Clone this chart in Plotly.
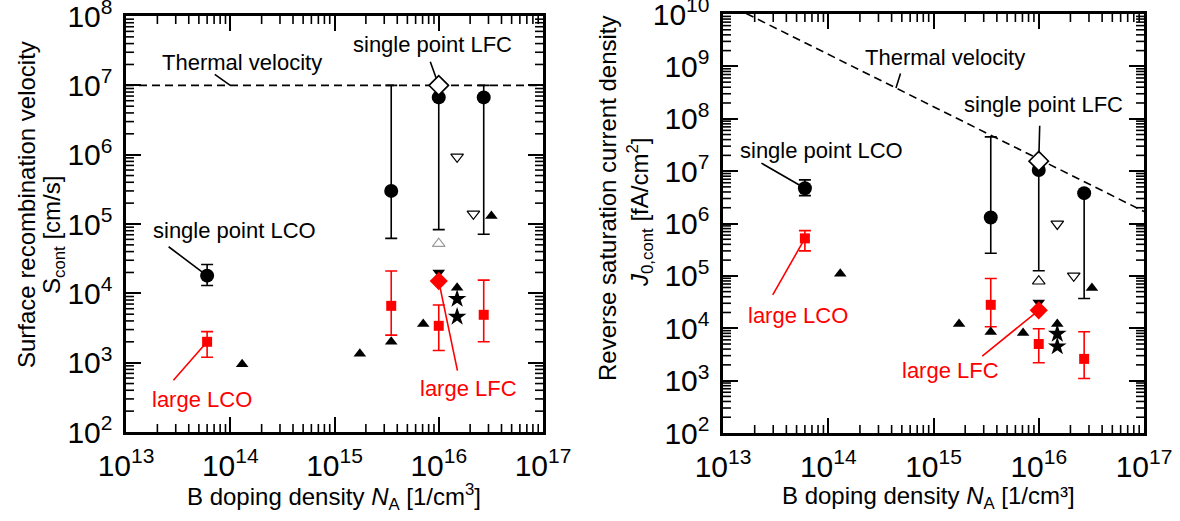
import numpy as np
import plotly.graph_objects as go

# ---------------- data ----------------
# boron doping densities [1/cm^3]
na_sp_lco = [6.0e13]
na_sp_lfc = [3.5e15, 1.0e16, 2.7e16]
na_lg_lco = [6.0e13]
na_lg_lfc = [3.5e15, 1.0e16, 2.7e16]
na_sp_lfc_pt = [1.0e16]
na_lg_lfc_pt = [1.0e16]
na_lit_up = [1.3e14, 1.75e15, 3.5e15, 7.1e15, 1.5e16, 3.2e16]
na_lit_down = [1.0e16]
na_open_down = [1.5e16, 2.15e16]
na_open_up = [1.0e16]
na_star = [1.5e16, 1.5e16]
na_thermal = [1.0e13, 1.0e17]

# surface recombination velocity S_cont [cm/s]
S_sp_lco = [1.8e4]; S_sp_lco_hi = [2.6e4]; S_sp_lco_lo = [1.3e4]
S_sp_lfc = [3.0e5, 6.7e6, 6.7e6]; S_sp_lfc_hi = [1e7, 1e7, 1e7]; S_sp_lfc_lo = [6.2e4, 8.3e4, 7.1e4]
S_lg_lco = [2.0e3]; S_lg_lco_hi = [2.8e3]; S_lg_lco_lo = [1.2e3]
S_lg_lfc = [6.6e3, 3.4e3, 4.9e3]; S_lg_lfc_hi = [2.1e4, 6.8e3, 1.55e4]; S_lg_lfc_lo = [2.5e3, 1.5e3, 2.0e3]
S_sp_lfc_pt = [1.0e7]
S_lg_lfc_pt = [1.5e4]
S_lit_up = [9.5e2, 1.35e3, 2.0e3, 3.6e3, 1.2e4, 1.3e5]
S_lit_down = [2.0e4]
S_open_down = [9.3e5, 1.4e5]
S_open_up = [5.2e4]
S_star = [8.3e3, 4.6e3]
S_thermal = [1.0e7, 1.0e7]

# reverse saturation current density J0,cont [fA/cm^2]
J_sp_lco = [4.7e6]; J_sp_lco_hi = [6.8e6]; J_sp_lco_lo = [3.4e6]
J_sp_lfc = [1.3e6, 1.05e7, 3.8e6]; J_sp_lfc_hi = [4.5e7, 1.55e7, 3.8e6]; J_sp_lfc_lo = [2.7e5, 1.25e5, 3.7e4]
J_lg_lco = [5.2e5]; J_lg_lco_hi = [7.3e5]; J_lg_lco_lo = [3.0e5]
J_lg_lfc = [2.8e4, 5.0e3, 2.6e3]; J_lg_lfc_hi = [8.9e4, 9.8e3, 8.6e3]; J_lg_lfc_lo = [1.07e4, 2.2e3, 1.1e3]
J_sp_lfc_pt = [1.55e7]
J_lg_lfc_pt = [2.2e4]
J_lit_up = [1.1e5, 1.2e4, 8.5e3, 8.1e3, 1.2e4, 5.9e4]
J_lit_down = [3.1e4]
J_open_down = [9.8e5, 1.0e5]
J_open_up = [7.9e4]
J_star = [7.8e3, 4.5e3]
J_thermal = [1.7e10, 1.7e6]
thermal_mark_na = [4.4e14]   # point where the label leader touches the right-hand line

# axis ranges (decades) and tick values (decades and 2..9 minors)
x_dec = (13, 17)
yS_dec = (2, 8)
yJ_dec = (2, 10)
major_x = [10.0 ** e for e in range(x_dec[0], x_dec[1] + 1)]
major_yS = [10.0 ** e for e in range(yS_dec[0], yS_dec[1] + 1)]
major_yJ = [10.0 ** e for e in range(yJ_dec[0], yJ_dec[1] + 1)]
minor_x = [m * 10.0 ** e for e in range(x_dec[0], x_dec[1]) for m in range(2, 10)]
minor_yS = [m * 10.0 ** e for e in range(yS_dec[0], yS_dec[1]) for m in range(2, 10)]
minor_yJ = [m * 10.0 ** e for e in range(yJ_dec[0], yJ_dec[1]) for m in range(2, 10)]

RED = "#FF0000"
FONT = "Liberation Sans, Arial, sans-serif"
W, H = 1180, 521

fig = go.Figure()


def err(y, hi, lo, color):
    y = np.array(y); hi = np.array(hi); lo = np.array(lo)
    return dict(type="data", symmetric=False, array=list(hi - y), arrayminus=list(y - lo),
                color=color, thickness=1.6, width=6)


def add_minor_ticks(xa, ya, xr, yr, minx, miny):
    """inside minor tick marks on all four sides, drawn as line markers clipped at the frame"""
    common = dict(xaxis=xa, yaxis=ya, showlegend=False, hoverinfo="skip", mode="markers",
                  cliponaxis=True)
    x0, x1 = 10.0 ** xr[0], 10.0 ** xr[1]
    y0, y1 = 10.0 ** yr[0], 10.0 ** yr[1]
    mk = dict(size=11.4, color="black", line=dict(color="black", width=1.6))
    for yy in (y0, y1):
        fig.add_trace(go.Scatter(x=minx, y=[yy] * len(minx), marker=dict(symbol="line-ns", **mk), **common))
    for xx in (x0, x1):
        fig.add_trace(go.Scatter(x=[xx] * len(miny), y=miny, marker=dict(symbol="line-ew", **mk), **common))


def add_panel(xa, ya, d):
    common = dict(xaxis=xa, yaxis=ya, showlegend=False, hoverinfo="skip")
    fig.add_trace(go.Scatter(x=na_thermal, y=d["th"], mode="lines",
                             line=dict(color="black", width=1.6, dash="8px,5px"), **common))
    fig.add_trace(go.Scatter(x=na_sp_lfc, y=d["sp_lfc"], mode="markers",
                             marker=dict(symbol="circle", size=14, color="black"),
                             error_y=err(d["sp_lfc"], d["sp_lfc_hi"], d["sp_lfc_lo"], "black"), **common))
    fig.add_trace(go.Scatter(x=na_sp_lco, y=d["sp_lco"], mode="markers",
                             marker=dict(symbol="circle", size=14, color="black"),
                             error_y=err(d["sp_lco"], d["sp_lco_hi"], d["sp_lco_lo"], "black"), **common))
    fig.add_trace(go.Scatter(x=na_lg_lco, y=d["lg_lco"], mode="markers",
                             marker=dict(symbol="square", size=10, color=RED),
                             error_y=err(d["lg_lco"], d["lg_lco_hi"], d["lg_lco_lo"], RED), **common))
    fig.add_trace(go.Scatter(x=na_lg_lfc, y=d["lg_lfc"], mode="markers",
                             marker=dict(symbol="square", size=10, color=RED),
                             error_y=err(d["lg_lfc"], d["lg_lfc_hi"], d["lg_lfc_lo"], RED), **common))
    fig.add_trace(go.Scatter(x=na_lit_up, y=d["lit_up"], mode="markers",
                             marker=dict(symbol="triangle-up", size=11, color="black"), **common))
    fig.add_trace(go.Scatter(x=na_lit_down, y=d["lit_down"], mode="markers",
                             marker=dict(symbol="triangle-down", size=11, color="black"), **common))
    fig.add_trace(go.Scatter(x=na_open_down, y=d["open_down"], mode="markers",
                             marker=dict(symbol="triangle-down-open", size=11, color="black",
                                         line=dict(width=1.2)), **common))
    fig.add_trace(go.Scatter(x=na_open_up, y=d["open_up"], mode="markers",
                             marker=dict(symbol="triangle-up-open", size=11, color=d["open_up_col"],
                                         line=dict(width=1.2)), **common))
    fig.add_trace(go.Scatter(x=na_star, y=d["star"], mode="markers",
                             marker=dict(symbol="star", size=14, color="black"), **common))
    fig.add_trace(go.Scatter(x=na_lg_lfc_pt, y=d["lg_lfc_pt"], mode="markers",
                             marker=dict(symbol="diamond", size=14, color=RED), **common))
    fig.add_trace(go.Scatter(x=na_sp_lfc_pt, y=d["sp_lfc_pt"], mode="markers",
                             marker=dict(symbol="diamond", size=15, color="white",
                                         line=dict(color="black", width=1.6)), **common))


add_minor_ticks("x", "y", x_dec, yS_dec, minor_x, minor_yS)
add_minor_ticks("x2", "y2", x_dec, yJ_dec, minor_x, minor_yJ)

add_panel("x", "y", dict(th=S_thermal, sp_lfc=S_sp_lfc, sp_lfc_hi=S_sp_lfc_hi, sp_lfc_lo=S_sp_lfc_lo,
                         sp_lco=S_sp_lco, sp_lco_hi=S_sp_lco_hi, sp_lco_lo=S_sp_lco_lo,
                         lg_lco=S_lg_lco, lg_lco_hi=S_lg_lco_hi, lg_lco_lo=S_lg_lco_lo,
                         lg_lfc=S_lg_lfc, lg_lfc_hi=S_lg_lfc_hi, lg_lfc_lo=S_lg_lfc_lo,
                         lit_up=S_lit_up, lit_down=S_lit_down, open_down=S_open_down,
                         open_up=S_open_up, open_up_col="#9a9a9a", star=S_star,
                         lg_lfc_pt=S_lg_lfc_pt, sp_lfc_pt=S_sp_lfc_pt))
add_panel("x2", "y2", dict(th=J_thermal, sp_lfc=J_sp_lfc, sp_lfc_hi=J_sp_lfc_hi, sp_lfc_lo=J_sp_lfc_lo,
                           sp_lco=J_sp_lco, sp_lco_hi=J_sp_lco_hi, sp_lco_lo=J_sp_lco_lo,
                           lg_lco=J_lg_lco, lg_lco_hi=J_lg_lco_hi, lg_lco_lo=J_lg_lco_lo,
                           lg_lfc=J_lg_lfc, lg_lfc_hi=J_lg_lfc_hi, lg_lfc_lo=J_lg_lfc_lo,
                           lit_up=J_lit_up, lit_down=J_lit_down, open_down=J_open_down,
                           open_up=J_open_up, open_up_col="black", star=J_star,
                           lg_lfc_pt=J_lg_lfc_pt, sp_lfc_pt=J_sp_lfc_pt))


def axis(domain, rng, anchor):
    return dict(type="log", range=list(rng), domain=domain, anchor=anchor, dtick=1,
                exponentformat="power", showexponent="all", automargin=False,
                ticklabeloverflow="allow", ticklabelstandoff=6,
                ticks="inside", ticklen=15, tickwidth=2.2, tickcolor="black",
                showline=True, linewidth=2.5, linecolor="black", mirror="allticks",
                showgrid=False, zeroline=False,
                tickfont=dict(family=FONT, size=24, color="black"))


xdomL = [126 / W, 543 / W]
ydomL = [1 - 432 / H, 1 - 16 / H]
xdomR = [723 / W, 1144 / W]
ydomR = [1 - 433 / H, 1 - 14 / H]

fig.update_layout(
    template="none",
    width=W, height=H, margin=dict(l=0, r=0, t=0, b=0, pad=0, autoexpand=False),
    paper_bgcolor="white", plot_bgcolor="white",
    xaxis=axis(xdomL, x_dec, "y"),
    yaxis=axis(ydomL, yS_dec, "x"),
    xaxis2=axis(xdomR, x_dec, "y2"),
    yaxis2=axis(ydomR, yJ_dec, "x2"),
)

ann = []


def text(t, px, py, color="black", size=22, angle=0):
    ann.append(dict(text=t, x=px / W, y=1 - py / H, xref="paper", yref="paper",
                    xanchor="center", yanchor="middle", showarrow=False, textangle=angle,
                    font=dict(family=FONT, size=size, color=color)))


def leader(xr, yr, xv, yv, ax, ay, color="black", standoff=0):
    ann.append(dict(text="", x=np.log10(xv), y=np.log10(yv), xref=xr, yref=yr,
                    ax=ax, ay=ay, axref="pixel", ayref="pixel", showarrow=True, arrowhead=0,
                    arrowwidth=1.6, arrowcolor=color, standoff=standoff))


# left panel labels
text("Thermal velocity", 241.7, 62.5)
leader("x", "y", 1e14, S_thermal[0], -17, -12)
text("single point LFC", 432.5, 45)
leader("x", "y", na_sp_lfc_pt[0], S_sp_lfc_pt[0], -9, -25, standoff=8)
text("single point LCO", 234.7, 230)
leader("x", "y", na_sp_lco[0], S_sp_lco[0], -40, -30, standoff=6)
text("large LCO", 201.7, 399, RED)
leader("x", "y", na_lg_lco[0], S_lg_lco[0], -35, 40, RED)
text("large LFC", 468.7, 388.3, RED)
leader("x", "y", na_lg_lfc_pt[0], S_lg_lfc_pt[0], 19, 91, RED)

# right panel labels
text("Thermal velocity", 944.7, 57.3)
leader("x2", "y2", thermal_mark_na[0],
       J_thermal[0] * na_thermal[0] / thermal_mark_na[0], 5, -16)
text("single point LFC", 1043.7, 104)
leader("x2", "y2", na_sp_lfc_pt[0], J_sp_lfc_pt[0], 1, -37, standoff=8)
text("single point LCO", 821.3, 150.7)
leader("x2", "y2", na_sp_lco[0], J_sp_lco[0], -45, -26, standoff=6)
text("large LCO", 798, 315, RED)
leader("x2", "y2", na_lg_lco[0], J_lg_lco[0], -33, 58, RED)
text("large LFC", 950.5, 370, RED)
leader("x2", "y2", na_lg_lfc_pt[0], J_lg_lfc_pt[0], -58, 47, RED)

# axis titles
text("B doping density <i>N</i><sub>A</sub> [1/cm<sup>3</sup>]", 333.5, 497, size=24)
text("B doping density <i>N</i><sub>A</sub> [1/cm³]", 928, 497, size=24)
text("Surface recombination velocity", 26, 205, size=24, angle=-90)
text("S<sub>cont</sub> [cm/s]", 53, 235, size=24, angle=-90)
text("Reverse saturation current density", 607, 198, size=24, angle=-90)
text("<i>J</i><sub>0,cont</sub> [fA/cm<sup>2</sup>]", 640, 213, size=24, angle=-90)

fig.update_layout(annotations=ann)
fig.write_html("out.html")
